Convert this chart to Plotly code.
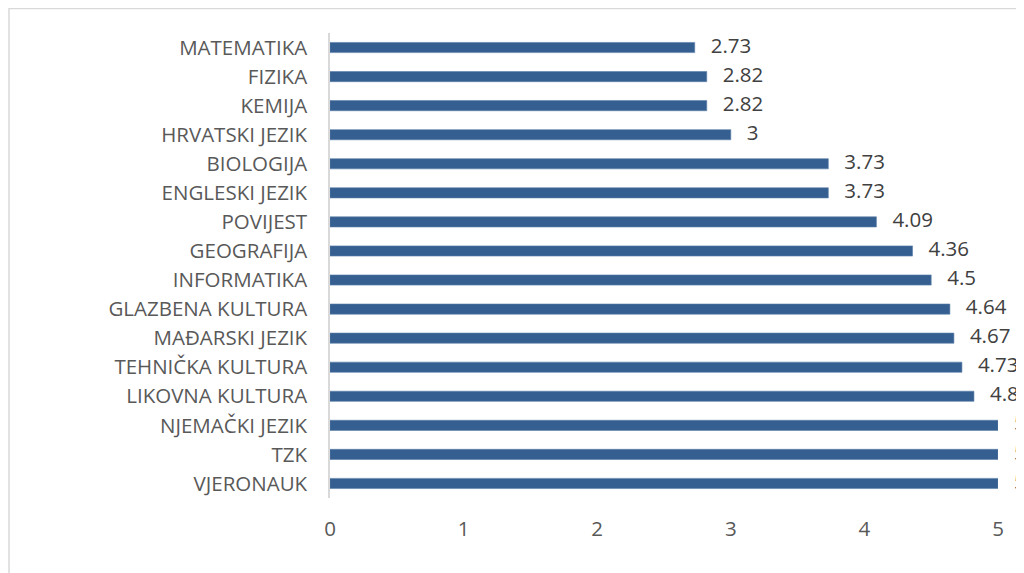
import plotly.graph_objects as go

# Subjects listed top to bottom, as in the chart
subjects = ["MATEMATIKA", "FIZIKA", "KEMIJA", "HRVATSKI JEZIK", "BIOLOGIJA",
            "ENGLESKI JEZIK", "POVIJEST", "GEOGRAFIJA", "INFORMATIKA",
            "GLAZBENA KULTURA", "MAĐARSKI JEZIK", "TEHNIČKA KULTURA",
            "LIKOVNA KULTURA", "NJEMAČKI JEZIK", "TZK", "VJERONAUK"]
grades = [2.73, 2.82, 2.82, 3, 3.73, 3.73, 4.09, 4.36, 4.5,
          4.64, 4.67, 4.73, 4.82, 5, 5, 5]
x_ticks = [0, 1, 2, 3, 4, 5]

fig = go.Figure()

fig.add_trace(go.Bar(
    x=grades,
    y=subjects,
    orientation="h",
    marker=dict(color="#365f91", line=dict(color="#5b7fa8", width=0.6)),
    hoverinfo="skip",
))

# value labels next to the bar ends
fig.add_trace(go.Scatter(
    x=grades,
    y=subjects,
    mode="text",
    text=["   " + str(g) for g in grades],
    textposition="middle right",
    textfont=dict(family="Open Sans", size=20.5, color="#404040"),
    cliponaxis=False,
    hoverinfo="skip",
))

fig.update_layout(
    width=1024,
    height=573,
    margin=dict(l=322, r=34, t=25, b=83),
    plot_bgcolor="white",
    paper_bgcolor="white",
    showlegend=False,
    bargap=0.65,
    font=dict(family="Open Sans", size=20.5, color="#595959"),
    # outer chart frame, partly running off the page
    shapes=[dict(type="rect", xref="paper", yref="paper",
                 x0=-321 / 668, x1=1.5, y0=-0.5, y1=1 + 24.5 / 465,
                 line=dict(color="#d9d9d9", width=1.5),
                 fillcolor="rgba(0,0,0,0)", layer="below")],
)

fig.update_xaxes(
    range=[0, 5],
    tickvals=x_ticks,
    showgrid=False,
    zeroline=False,
    showline=False,
    ticks="",
    automargin=False,
    ticklabelstandoff=16,
    tickfont=dict(size=20.5, color="#595959"),
)

fig.update_yaxes(
    categoryorder="array",
    categoryarray=subjects[::-1],
    range=[-0.5, len(subjects) - 0.5],
    showgrid=False,
    showline=True,
    linecolor="#d9d9d9",
    linewidth=1.5,
    ticks="",
    automargin=False,
    ticklabelstandoff=17,
    tickfont=dict(size=20.5, color="#595959"),
)

fig.write_html("out.html")
